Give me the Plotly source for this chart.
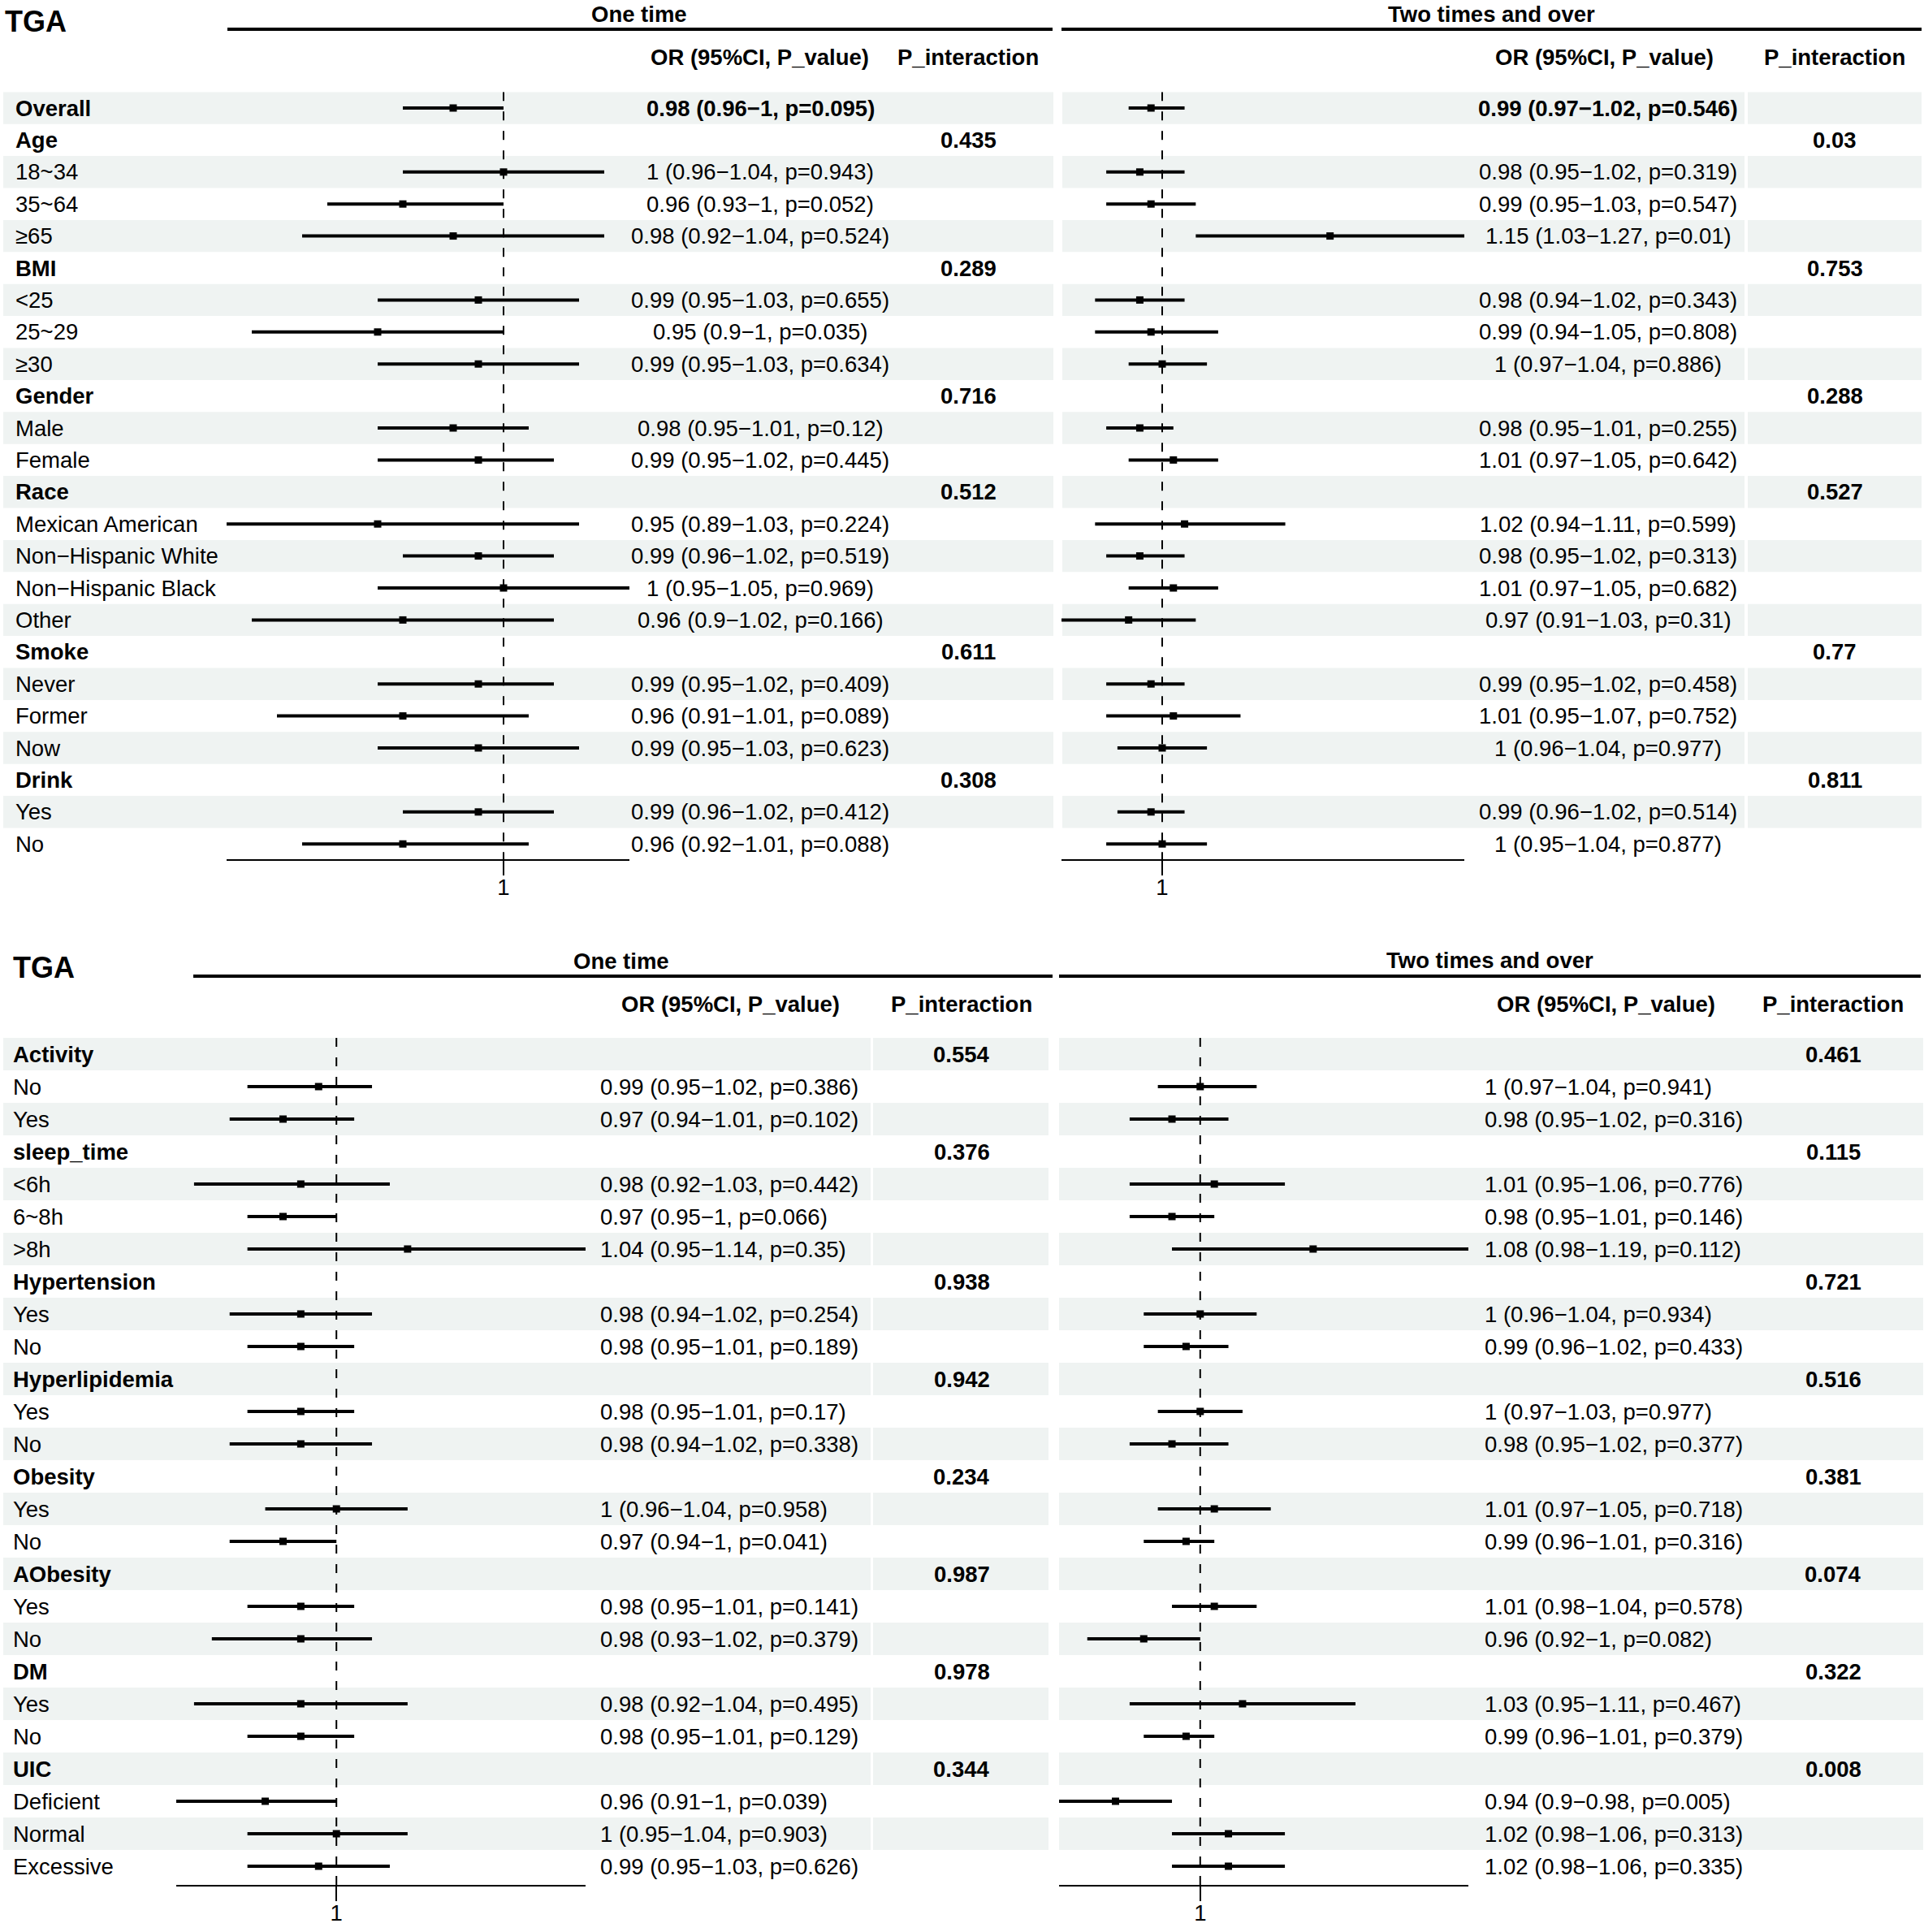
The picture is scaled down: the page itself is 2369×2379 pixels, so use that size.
import plotly.graph_objects as go

W, H = 2369, 2379
FONT = "Liberation Sans"
FS = 27.5
SHADE = "#eff3f2"
MINUS = "\u2212"

# ---------------- TOP TABLE ----------------
top_labels = ["Overall", "Age", "18~34", "35~64", "≥65", "BMI", "<25", "25~29", "≥30",
              "Gender", "Male", "Female", "Race", "Mexican American",
              "Non" + MINUS + "Hispanic White", "Non" + MINUS + "Hispanic Black", "Other",
              "Smoke", "Never", "Former", "Now", "Drink", "Yes", "No"]
top_bold = [True, True, False, False, False, True, False, False, False,
            True, False, False, True, False, False, False, False,
            True, False, False, False, True, False, False]

# One time
t1_or = [0.98, None, 1, 0.96, 0.98, None, 0.99, 0.95, 0.99, None, 0.98, 0.99, None,
         0.95, 0.99, 1, 0.96, None, 0.99, 0.96, 0.99, None, 0.99, 0.96]
t1_lo = [0.96, None, 0.96, 0.93, 0.92, None, 0.95, 0.9, 0.95, None, 0.95, 0.95, None,
         0.89, 0.96, 0.95, 0.9, None, 0.95, 0.91, 0.95, None, 0.96, 0.92]
t1_hi = [1, None, 1.04, 1, 1.04, None, 1.03, 1, 1.03, None, 1.01, 1.02, None,
         1.03, 1.02, 1.05, 1.02, None, 1.02, 1.01, 1.03, None, 1.02, 1.01]
t1_p = [0.095, None, 0.943, 0.052, 0.524, None, 0.655, 0.035, 0.634, None, 0.12, 0.445, None,
        0.224, 0.519, 0.969, 0.166, None, 0.409, 0.089, 0.623, None, 0.412, 0.088]
t1_pint = [None, "0.435", None, None, None, "0.289", None, None, None, "0.716", None, None,
           "0.512", None, None, None, None, "0.611", None, None, None, "0.308", None, None]

# Two times and over
t2_or = [0.99, None, 0.98, 0.99, 1.15, None, 0.98, 0.99, 1, None, 0.98, 1.01, None,
         1.02, 0.98, 1.01, 0.97, None, 0.99, 1.01, 1, None, 0.99, 1]
t2_lo = [0.97, None, 0.95, 0.95, 1.03, None, 0.94, 0.94, 0.97, None, 0.95, 0.97, None,
         0.94, 0.95, 0.97, 0.91, None, 0.95, 0.95, 0.96, None, 0.96, 0.95]
t2_hi = [1.02, None, 1.02, 1.03, 1.27, None, 1.02, 1.05, 1.04, None, 1.01, 1.05, None,
         1.11, 1.02, 1.05, 1.03, None, 1.02, 1.07, 1.04, None, 1.02, 1.04]
t2_p = [0.546, None, 0.319, 0.547, 0.01, None, 0.343, 0.808, 0.886, None, 0.255, 0.642, None,
        0.599, 0.313, 0.682, 0.31, None, 0.458, 0.752, 0.977, None, 0.514, 0.877]
t2_pint = [None, "0.03", None, None, None, "0.753", None, None, None, "0.288", None, None,
           "0.527", None, None, None, None, "0.77", None, None, None, "0.811", None, None]

# ---------------- BOTTOM TABLE ----------------
bot_labels = ["Activity", "No", "Yes", "sleep_time", "<6h", "6~8h", ">8h",
              "Hypertension", "Yes", "No", "Hyperlipidemia", "Yes", "No",
              "Obesity", "Yes", "No", "AObesity", "Yes", "No", "DM", "Yes", "No",
              "UIC", "Deficient", "Normal", "Excessive"]
bot_bold = [True, False, False, True, False, False, False, True, False, False, True, False, False,
            True, False, False, True, False, False, True, False, False, True, False, False, False]

b1_or = [None, 0.99, 0.97, None, 0.98, 0.97, 1.04, None, 0.98, 0.98, None, 0.98, 0.98,
         None, 1, 0.97, None, 0.98, 0.98, None, 0.98, 0.98, None, 0.96, 1, 0.99]
b1_lo = [None, 0.95, 0.94, None, 0.92, 0.95, 0.95, None, 0.94, 0.95, None, 0.95, 0.94,
         None, 0.96, 0.94, None, 0.95, 0.93, None, 0.92, 0.95, None, 0.91, 0.95, 0.95]
b1_hi = [None, 1.02, 1.01, None, 1.03, 1, 1.14, None, 1.02, 1.01, None, 1.01, 1.02,
         None, 1.04, 1, None, 1.01, 1.02, None, 1.04, 1.01, None, 1, 1.04, 1.03]
b1_p = [None, 0.386, 0.102, None, 0.442, 0.066, 0.35, None, 0.254, 0.189, None, 0.17, 0.338,
        None, 0.958, 0.041, None, 0.141, 0.379, None, 0.495, 0.129, None, 0.039, 0.903, 0.626]
b1_pint = ["0.554", None, None, "0.376", None, None, None, "0.938", None, None, "0.942", None, None,
           "0.234", None, None, "0.987", None, None, "0.978", None, None, "0.344", None, None, None]

b2_or = [None, 1, 0.98, None, 1.01, 0.98, 1.08, None, 1, 0.99, None, 1, 0.98,
         None, 1.01, 0.99, None, 1.01, 0.96, None, 1.03, 0.99, None, 0.94, 1.02, 1.02]
b2_lo = [None, 0.97, 0.95, None, 0.95, 0.95, 0.98, None, 0.96, 0.96, None, 0.97, 0.95,
         None, 0.97, 0.96, None, 0.98, 0.92, None, 0.95, 0.96, None, 0.9, 0.98, 0.98]
b2_hi = [None, 1.04, 1.02, None, 1.06, 1.01, 1.19, None, 1.04, 1.02, None, 1.03, 1.02,
         None, 1.05, 1.01, None, 1.04, 1, None, 1.11, 1.01, None, 0.98, 1.06, 1.06]
b2_p = [None, 0.941, 0.316, None, 0.776, 0.146, 0.112, None, 0.934, 0.433, None, 0.977, 0.377,
        None, 0.718, 0.316, None, 0.578, 0.082, None, 0.467, 0.379, None, 0.005, 0.313, 0.335]
b2_pint = ["0.461", None, None, "0.115", None, None, None, "0.721", None, None, "0.516", None, None,
           "0.381", None, None, "0.074", None, None, "0.322", None, None, "0.008", None, None, None]

# axis limits of the four forest columns
xlim_t1 = [0.89, 1.05]
xlim_t2 = [0.91, 1.27]
xlim_b1 = [0.91, 1.14]
xlim_b2 = [0.90, 1.19]

panel_title = "TGA"
group_titles = ["One time", "Two times and over"]
col_headers = ["OR (95%CI, P_value)", "P_interaction"]


def fmt(v):
    return f"{v:g}"


def px(X):
    return X / W


def py(Y):
    return 1 - Y / H


fig = go.Figure()
annotations = []
shapes = []


def txt(text, x, y, yref="paper", xanchor="left", size=FS, bold=False):
    annotations.append(dict(
        text=f"<b>{text}</b>" if bold else text, x=x, y=y, xref="paper", yref=yref,
        xanchor=xanchor, yanchor="middle", showarrow=False,
        font=dict(family=FONT, size=size, color="black")))


def build_panel(yname, top_c, step, n_rows, axis_Y, labels, bold, label_x, shade_segs,
                sides, head):
    yaxis_key = "yaxis" if yname == "y" else "yaxis" + yname[1:]
    y_bottom = (axis_Y - top_c) / step
    fig.layout[yaxis_key] = dict(domain=[py(axis_Y), py(top_c - step / 2)],
                                 range=[y_bottom, -0.5], visible=False, fixedrange=True)
    # row shading
    for i in range(n_rows):
        if i % 2 == 0:
            for (a, b) in shade_segs:
                shapes.append(dict(type="rect", xref="paper", yref=yname,
                                   x0=px(a), x1=px(b), y0=i - 0.5, y1=i + 0.5,
                                   fillcolor=SHADE, line=dict(width=0), layer="below"))
    # row labels
    for i, lab in enumerate(labels):
        txt(lab, px(label_x), i, yref=yname, bold=bold[i])
    # header texts
    ht = head
    txt(panel_title, px(ht["tga"][0]), py(ht["tga"][1]), size=36, bold=True)
    for s_i, side in enumerate(sides):
        gx, gy = side["group_pos"]
        txt(group_titles[s_i], px(gx), py(gy), xanchor="center", bold=True)
        l0, l1, ly = side["uline"]
        shapes.append(dict(type="line", xref="paper", yref="paper", x0=px(l0), x1=px(l1),
                           y0=py(ly), y1=py(ly), line=dict(color="black", width=4)))
        txt(col_headers[0], px(side["or_head"]), py(ht["col_Y"]), xanchor="center", bold=True)
        txt(col_headers[1], px(side["p_x"]), py(ht["col_Y"]), xanchor="center", bold=True)

        xname = side["x"]
        xaxis_key = "xaxis" if xname == "x" else "xaxis" + xname[1:]
        d0, d1 = side["dom"]
        fig.layout[xaxis_key] = dict(
            domain=[px(d0), px(d1)], range=side["xlim"], anchor=yname,
            showline=True, linecolor="black", linewidth=2, ticks="outside",
            tickvals=[1], ticktext=["1"], ticklen=18, tickwidth=2, tickcolor="black",
            ticklabelstandoff=-9,
            showgrid=False, zeroline=False, fixedrange=True,
            tickfont=dict(family=FONT, size=FS, color="black"))
        # reference line at 1
        shapes.append(dict(type="line", xref=xname, yref=yname, x0=1, x1=1,
                           y0=-0.5, y1=y_bottom,
                           line=dict(color="black", width=2, dash="11px,13px"), layer="above"))
        ors, los, his, ps, pint = side["data"]
        cx, cy, mx, my = [], [], [], []
        for i in range(n_rows):
            if ors[i] is not None:
                cx += [los[i], his[i], None]
                cy += [i, i, None]
                mx.append(ors[i])
                my.append(i)
                t = f"{fmt(ors[i])} ({fmt(los[i])}{MINUS}{fmt(his[i])}, p={fmt(ps[i])})"
                txt(t, px(side["or_x"]), i, yref=yname, xanchor=side["or_anchor"],
                    bold=(labels[i] == "Overall"))
            if pint[i] is not None:
                txt(pint[i], px(side["p_x"]), i, yref=yname, xanchor="center", bold=True)
        fig.add_trace(go.Scatter(x=cx, y=cy, mode="lines", xaxis=xname, yaxis=yname,
                                 line=dict(color="black", width=4), showlegend=False,
                                 hoverinfo="skip", cliponaxis=False))
        fig.add_trace(go.Scatter(x=mx, y=my, mode="markers", xaxis=xname, yaxis=yname,
                                 marker=dict(symbol="square", size=9, color="black",
                                             line=dict(width=0)),
                                 showlegend=False, hoverinfo="skip", cliponaxis=False))


build_panel(
    "y", 133, 39.4, len(top_labels), 1058, top_labels, top_bold, 17,
    [(4, 1297), (1308, 2148), (2152, 2366)],
    [
        dict(x="x", dom=(279, 775), xlim=xlim_t1, data=(t1_or, t1_lo, t1_hi, t1_p, t1_pint),
             or_x=936, or_anchor="center", or_head=935, p_x=1192,
             group_pos=(787, 17), uline=(280, 1296, 36)),
        dict(x="x2", dom=(1307, 1803), xlim=xlim_t2, data=(t2_or, t2_lo, t2_hi, t2_p, t2_pint),
             or_x=1980, or_anchor="center", or_head=1975, p_x=2259,
             group_pos=(1836, 17), uline=(1307, 2366, 36)),
    ],
    dict(tga=(4, 27), col_Y=71),
)

build_panel(
    "y2", 1298, 40, len(bot_labels), 2321, bot_labels, bot_bold, 14,
    [(4, 1072), (1075, 1291), (1304, 2368)],
    [
        dict(x="x3", dom=(217, 721), xlim=xlim_b1, data=(b1_or, b1_lo, b1_hi, b1_p, b1_pint),
             or_x=737, or_anchor="left", or_head=899, p_x=1184,
             group_pos=(765, 1183), uline=(238, 1296, 1202)),
        dict(x="x4", dom=(1304, 1808), xlim=xlim_b2, data=(b2_or, b2_lo, b2_hi, b2_p, b2_pint),
             or_x=1826, or_anchor="left", or_head=1977, p_x=2257,
             group_pos=(1834, 1182), uline=(1304, 2365, 1202)),
    ],
    dict(tga=(14, 1191), col_Y=1236),
)

fig.update_layout(
    width=W, height=H, margin=dict(l=0, r=0, t=0, b=0),
    paper_bgcolor="white", plot_bgcolor="rgba(0,0,0,0)",
    annotations=annotations, shapes=shapes, showlegend=False,
    font=dict(family=FONT, size=FS, color="black"),
)

fig.write_html(
    "out.html",
    config={"displayModeBar": False},
    post_script="document.body.style.margin='0px';document.body.style.overflow='hidden';",
)
